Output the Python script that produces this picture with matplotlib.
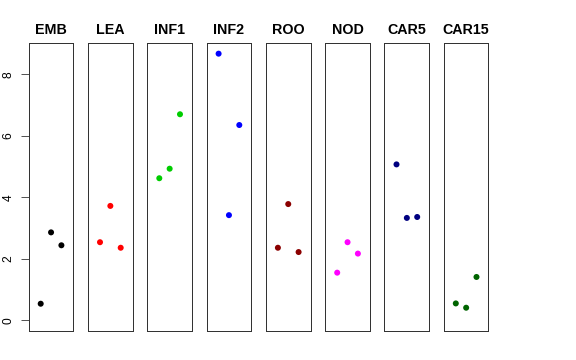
import matplotlib
matplotlib.use("Agg")
import matplotlib.pyplot as plt

plt.rcParams["font.family"] = ["Liberation Sans", "DejaVu Sans"]

# tissue groups and their three replicate values
groups = ["EMB", "LEA", "INF1", "INF2", "ROO", "NOD", "CAR5", "CAR15"]
colors = ["black", "red", "#00CD00", "blue", "#8B0000", "magenta", "#000080", "#006400"]
emb = [0.54, 2.86, 2.44]
lea = [2.54, 3.72, 2.36]
inf1 = [4.62, 4.93, 6.70]
inf2 = [8.67, 3.42, 6.35]
roo = [2.36, 3.78, 2.22]
nod = [1.55, 2.54, 2.17]
car5 = [5.07, 3.33, 3.36]
car15 = [0.55, 0.41, 1.41]
values = [emb, lea, inf1, inf2, roo, nod, car5, car15]
replicate = [1, 2, 3]
yticks = [0, 2, 4, 6, 8]

W, H = 576, 360
fig = plt.figure(figsize=(W / 72, H / 72), dpi=72)

ymax = max(max(v) for v in values)
pad_y = 0.04 * ymax

left0, width, pitch = 28.7, 44.7, 59.3
top, bottom = 43.0, 331.0

for i, (name, col, vals) in enumerate(zip(groups, colors, values)):
    x0 = left0 + i * pitch
    ax = fig.add_axes([x0 / W, 1 - bottom / H, width / W, (bottom - top) / H])
    ax.scatter(replicate, vals, s=36, color=col, edgecolors="none", zorder=3)
    ax.set_xlim(-0.16, 4.16)
    ax.set_ylim(-pad_y, ymax + pad_y)
    ax.set_xticks([])
    for sp in ax.spines.values():
        sp.set_linewidth(1.0)
        sp.set_color("#333333")
    ax.set_title(name, fontsize=14.2, fontweight="bold", pad=8.7)
    if i == 0:
        ax.set_yticks(yticks)
        ax.set_yticklabels([str(t) for t in yticks], rotation=90, va="center", fontsize=12)
        ax.tick_params(axis="y", length=8, width=1.0, pad=6, color="#555555")
    else:
        ax.set_yticks([])

fig.savefig("out.png", dpi=72)
